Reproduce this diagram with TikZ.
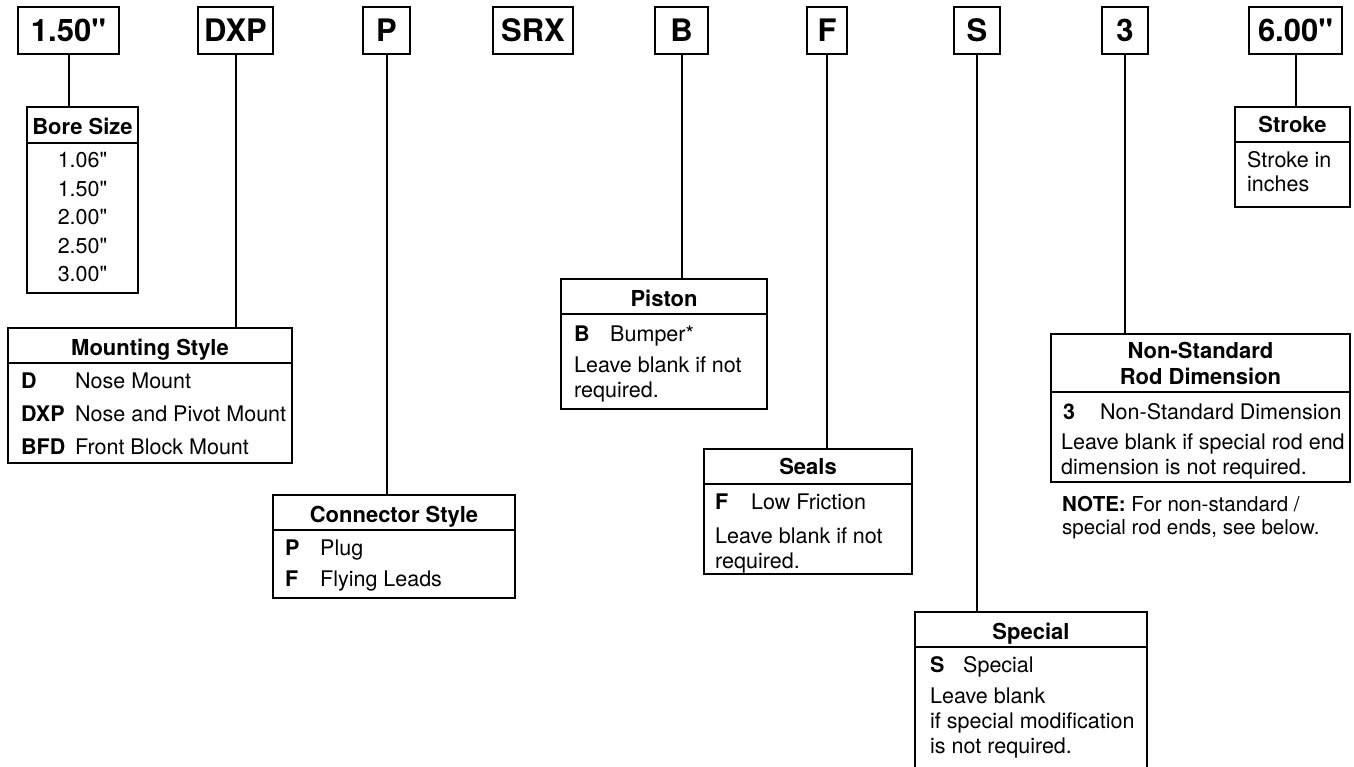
\documentclass[tikz,border=0pt]{standalone}
\usepackage{fontspec}
\setmainfont{TeX Gyre Heros}[Ligatures=TeXOff]

\tikzset{
  codebox/.style={draw, line width=1.3pt, inner sep=0pt, outer sep=0pt,
    minimum height=47pt, font=\fontsize{31}{35}\selectfont\bfseries},
  infobox/.style={draw, line width=1.3pt, inner sep=0pt, outer sep=0pt, anchor=north west},
  headtext/.style={anchor=base, inner sep=0pt, font=\fontsize{22}{25}\selectfont\bfseries},
  keytext/.style={anchor=base west, inner sep=0pt, font=\fontsize{21.5}{25}\selectfont\bfseries},
  bodytext/.style={anchor=base west, inner sep=0pt, font=\fontsize{21.5}{25}\selectfont},
  notetext/.style={anchor=base west, inner sep=0pt, font=\fontsize{20.5}{23}\selectfont},
  seprule/.style={line width=2pt},
  link/.style={line width=2pt},
}

\begin{document}
\begin{tikzpicture}[x=1pt,y=-1pt]
  \useasboundingbox (0,0) rectangle (1354,766);
  \fill[white] (0,0) rectangle (1354,766);

  % model code boxes
  \node[codebox, minimum width=101pt] (cBore) at (68.5,30.5) {1.50"};
  \node[codebox, minimum width=75pt] (cMount) at (235.5,30.5) {DXP};
  \node[codebox, minimum width=47pt] (cConn) at (386.5,30.5) {P};
  \node[codebox, minimum width=80pt] (cSeries) at (533,30.5) {SRX};
  \node[codebox, minimum width=53pt] (cPiston) at (681.5,30.5) {B};
  \node[codebox, minimum width=40pt] (cSeals) at (827,30.5) {F};
  \node[codebox, minimum width=46pt] (cSpecial) at (977,30.5) {S};
  \node[codebox, minimum width=46pt] (cRod) at (1125,30.5) {3};
  \node[codebox, minimum width=93pt] (cStroke) at (1295.5,30.5) {6.00"};

  % bore size
  \node[infobox, minimum width=111pt, minimum height=186pt] (bore) at (27,107) {};
  \draw[seprule] ([yshift=-36pt]bore.north west) -- ([yshift=-36pt]bore.north east);
  \node[headtext] (boreHead) at (82.5,134.5) {Bore Size};
  \foreach \v [count=\i] in {1.06,1.50,2.00,2.50,3.00}
    \node[bodytext, anchor=base] (bore\i) at (82.5,167.5+28.6*\i-28.6) {\v"};

  % mounting style
  \node[infobox, minimum width=284pt, minimum height=135pt] (mount) at (8,328) {};
  \draw[seprule] ([yshift=-35pt]mount.north west) -- ([yshift=-35pt]mount.north east);
  \node[headtext] (mountHead) at (150,355.5) {Mounting Style};
  \node[keytext] (mountK1) at (21,388.5) {D};
  \node[bodytext] (mountT1) at (75,388.5) {Nose Mount};
  \node[keytext] (mountK2) at (21,421.5) {DXP};
  \node[bodytext] (mountT2) at (75,421.5) {Nose and Pivot Mount};
  \node[keytext] (mountK3) at (21,454.5) {BFD};
  \node[bodytext] (mountT3) at (75,454.5) {Front Block Mount};

  % connector style
  \node[infobox, minimum width=242pt, minimum height=103pt] (conn) at (273,495) {};
  \draw[seprule] ([yshift=-35pt]conn.north west) -- ([yshift=-35pt]conn.north east);
  \node[headtext] (connHead) at (394,522.5) {Connector Style};
  \node[keytext] (connK1) at (285,555.5) {P};
  \node[bodytext] (connT1) at (320,555.5) {Plug};
  \node[keytext] (connK2) at (285,586.5) {F};
  \node[bodytext] (connT2) at (320,586.5) {Flying Leads};

  % piston
  \node[infobox, minimum width=206pt, minimum height=130pt] (piston) at (561,279) {};
  \draw[seprule] ([yshift=-35pt]piston.north west) -- ([yshift=-35pt]piston.north east);
  \node[headtext] (pistonHead) at (664,306.5) {Piston};
  \node[keytext] (pistonK1) at (574,341.5) {B};
  \node[bodytext] (pistonT1) at (610,341.5) {Bumper*};
  \node[bodytext] (pistonN1) at (574,372.5) {Leave blank if not};
  \node[bodytext] (pistonN2) at (574,397.5) {required.};

  % seals
  \node[infobox, minimum width=208pt, minimum height=125pt] (seals) at (704,449) {};
  \draw[seprule] ([yshift=-35pt]seals.north west) -- ([yshift=-35pt]seals.north east);
  \node[headtext] (sealsHead) at (808,474.5) {Seals};
  \node[keytext] (sealsK1) at (715,509.5) {F};
  \node[bodytext] (sealsT1) at (751,509.5) {Low Friction};
  \node[bodytext] (sealsN1) at (715,543.5) {Leave blank if not};
  \node[bodytext] (sealsN2) at (715,568.5) {required.};

  % special
  \node[infobox, minimum width=232pt, minimum height=160pt] (special) at (915,612) {};
  \draw[seprule] ([yshift=-35pt]special.north west) -- ([yshift=-35pt]special.north east);
  \node[headtext] (specialHead) at (1031,639.5) {Special};
  \node[keytext] (specialK1) at (930,672.5) {S};
  \node[bodytext] (specialT1) at (963,672.5) {Special};
  \node[bodytext] (specialN1) at (930,703) {Leave blank};
  \node[bodytext] (specialN2) at (930,728) {if special modification};
  \node[bodytext] (specialN3) at (930,753) {is not required.};

  % non-standard rod dimension
  \node[infobox, minimum width=299pt, minimum height=148pt] (rod) at (1051,334) {};
  \draw[seprule] ([yshift=-58pt]rod.north west) -- ([yshift=-58pt]rod.north east);
  \node[headtext] (rodHead1) at (1200.5,358.5) {Non-Standard};
  \node[headtext] (rodHead2) at (1200.5,384.5) {Rod Dimension};
  \node[keytext] (rodK1) at (1063,419.5) {3};
  \node[bodytext] (rodT1) at (1100,419.5) {Non-Standard Dimension};
  \node[bodytext] (rodN1) at (1061,449.5) {Leave blank if special rod end};
  \node[bodytext] (rodN2) at (1061,474.5) {dimension is not required.};
  \node[notetext] (note1) at (1062,511) {\textbf{NOTE:} For non-standard /};
  \node[notetext] (note2) at (1062,534) {special rod ends, see below.};

  % stroke
  \node[infobox, minimum width=115pt, minimum height=100pt] (stroke) at (1235,107) {};
  \draw[seprule] ([yshift=-35pt]stroke.north west) -- ([yshift=-35pt]stroke.north east);
  \node[headtext] (strokeHead) at (1292.5,132.5) {Stroke};
  \node[bodytext] (strokeN1) at (1247,167) {Stroke in};
  \node[bodytext] (strokeN2) at (1247,191) {inches};

  % links
  \draw[link] (cBore.south) -- (cBore.south |- bore.north);
  \draw[link] (cMount.south) -- (cMount.south |- mount.north);
  \draw[link] (cConn.south) -- (cConn.south |- conn.north);
  \draw[link] (cPiston.south) -- (cPiston.south |- piston.north);
  \draw[link] (cSeals.south) -- (cSeals.south |- seals.north);
  \draw[link] (cSpecial.south) -- (cSpecial.south |- special.north);
  \draw[link] (cRod.south) -- (cRod.south |- rod.north);
  \draw[link] (cStroke.south) -- (cStroke.south |- stroke.north);
\end{tikzpicture}
\end{document}
